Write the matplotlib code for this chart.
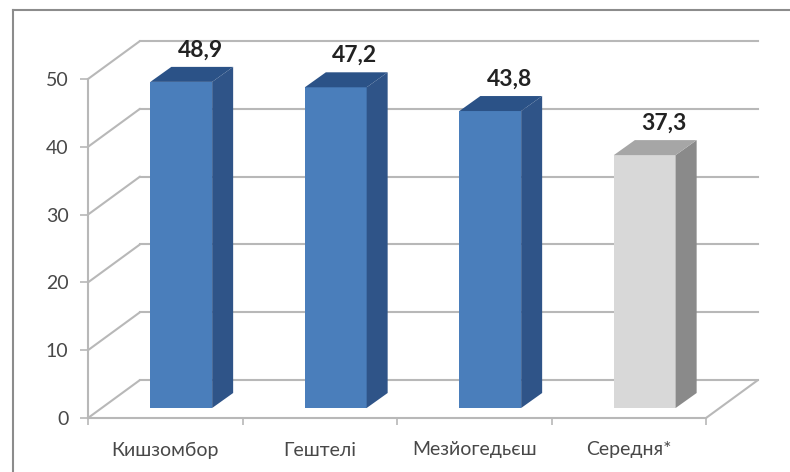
import matplotlib
matplotlib.use('Agg')
from matplotlib import pyplot as plt
from matplotlib.lines import Line2D
from matplotlib.transforms import Affine2D

categories = ['Кишзомбор', 'Гештелі', 'Мезйогедьєш', 'Середня*']
values = [48.1, 47.3, 43.8, 37.3]
value_labels = ['48,9', '47,2', '43,8', '37,3']
y_ticks = [0, 10, 20, 30, 40, 50]

W, H = 790, 472
GRID = '#b8b8b8'
TEXT = '#484848'
# front, side, top colour of each bar
BLUE = ('#4a7ebb', '#2f5488', '#2b5287')
GREY = ('#d8d8d8', '#8a8a8a', '#a6a6a6')
bar_colors = [BLUE, BLUE, BLUE, GREY]

plt.rcParams['font.family'] = ['Lato', 'Noto Sans', 'DejaVu Sans']

fig = plt.figure(figsize=(W / 100, H / 100), dpi=100, facecolor='white')
# axes rectangle is the front edge of the chart floor and the y axis
ax = fig.add_axes([88 / W, 1 - 418 / H, (706 - 88) / W, (418 - 79) / H])
ax.set_xlim(-0.5, 3.5)
ax.set_ylim(0, 50)
ax.patch.set_visible(False)


def shifted(dx, dy):
    # data coordinates moved by some pixels, this is how the fake depth is done
    return ax.transData + Affine2D().translate(dx, dy)


def slanted(x, y):
    # line going from the front edge to the back wall
    x0, y0 = ax.transData.transform((x, y))
    ax.annotate('', xy=(x0 + 52, y0 + 38), xytext=(x0, y0), xycoords='figure pixels',
                textcoords='figure pixels',
                arrowprops=dict(arrowstyle='-', color=GRID, lw=1.5, shrinkA=0, shrinkB=0), zorder=1)


# frame of the picture, only top and left are inside the crop
frame_x = 13 / W
frame_y = 1 - 10 / H
fig.add_artist(Line2D([frame_x, 1], [frame_y, frame_y], color='#8c8c8c', lw=1.5))
fig.add_artist(Line2D([frame_x, frame_x], [frame_y, 0], color='#8c8c8c', lw=1.5))

# back wall grid lines and the slanted ones on the side wall
back = shifted(52, 38)
for t in y_ticks:
    ax.plot([-0.5, 3.5], [t, t], color=GRID, lw=1.5, transform=back, clip_on=False, zorder=1)
    slanted(-0.5, t)
slanted(3.5, 0)

# bars, each one is front face plus side and top faces
bar_w = 0.4
bar_off = shifted(16, 10)
px = Affine2D()  # plain pixels
for i, v in enumerate(values):
    front, side, top = bar_colors[i]
    l, r = i - bar_w / 2, i + bar_w / 2
    ax.bar(i, v, width=bar_w, color=front, transform=bar_off, clip_on=False, zorder=3)
    (xl, yb), (xr, yt) = bar_off.transform([(l, 0), (r, v)])
    ax.fill([xr, xr + 21, xr + 21, xr], [yb, yb + 15, yt + 15, yt], color=side, lw=0,
            transform=px, clip_on=False, zorder=3)
    ax.fill([xl, xl + 21, xr + 21, xr], [yt, yt + 15, yt + 15, yt], color=top, lw=0,
            transform=px, clip_on=False, zorder=3)
    ax.text(xl + 50, yt + 32, value_labels[i], transform=px, ha='center', va='center',
            fontsize=16.5, fontweight='bold', color='#222222', zorder=4)

for s in ['top', 'right']:
    ax.spines[s].set_visible(False)
for s in ['left', 'bottom']:
    ax.spines[s].set_color(GRID)
    ax.spines[s].set_linewidth(1.5)

ax.set_yticks(y_ticks)
ax.set_xticks([-0.5, 0.5, 1.5, 2.5, 3.5])
ax.set_xticklabels([])
ax.tick_params(axis='y', length=6, width=1.2, color=GRID, labelsize=14, labelcolor=TEXT, pad=8)
ax.tick_params(axis='x', length=5, width=1.2, color=GRID)
for i, c in enumerate(categories):
    ax.annotate(c, xy=(i, 0), xytext=(0, -32), xycoords='data', textcoords='offset pixels',
                ha='center', va='center', fontsize=14, color=TEXT)

fig.savefig('out.png', dpi=100, facecolor='white')
